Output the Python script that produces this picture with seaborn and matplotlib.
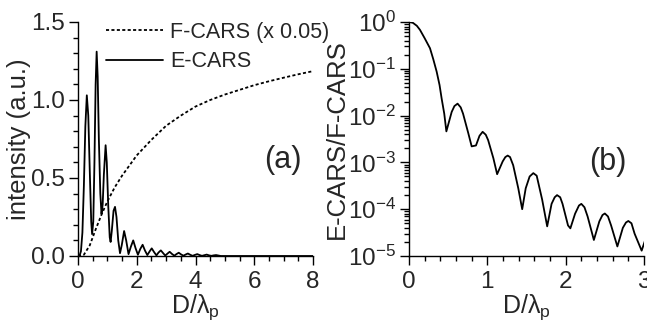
import numpy as np
import pandas as pd
import matplotlib
matplotlib.use("Agg")
import matplotlib.pyplot as plt
import seaborn as sns
from matplotlib.ticker import MultipleLocator, LogLocator, NullFormatter

# -------------------------------
# DATA
# -------------------------------
# (a) E-CARS intensity vs D/lambda_p
ecars_x = [0.00, 0.05, 0.10, 0.15, 0.20, 0.25, 0.30, 0.35, 0.40, 0.45,
           0.48, 0.52, 0.56, 0.60, 0.635, 0.67, 0.71, 0.76, 0.80, 0.84,
           0.88, 0.94, 0.98, 1.03, 1.08, 1.11, 1.15, 1.21, 1.26, 1.31,
           1.37, 1.43, 1.49, 1.57, 1.64, 1.72, 1.80, 1.88, 1.96, 2.04,
           2.12, 2.20, 2.28, 2.36, 2.44, 2.51, 2.59, 2.67, 2.74, 2.82,
           2.90, 2.97, 3.05, 3.12, 3.20, 3.28, 3.35, 3.43, 3.51, 3.59,
           3.66, 3.74, 3.82, 3.90, 3.98, 4.06, 4.14, 4.22, 4.30, 4.38,
           4.46, 4.54, 4.62, 4.70, 4.78, 4.86, 6.00, 8.00]
ecars_y = [0.0, 0.0, 0.03, 0.15, 0.45, 0.83, 1.03, 0.90, 0.55, 0.22,
           0.14, 0.22, 0.60, 1.10, 1.31, 1.15, 0.75, 0.40, 0.27, 0.33,
           0.52, 0.71, 0.60, 0.32, 0.12, 0.09, 0.16, 0.29, 0.315, 0.25,
           0.10, 0.018, 0.07, 0.16, 0.10, 0.012, 0.06, 0.10, 0.05, 0.008,
           0.045, 0.072, 0.035, 0.006, 0.03, 0.049, 0.025, 0.004, 0.022, 0.036,
           0.018, 0.003, 0.016, 0.027, 0.013, 0.002, 0.012, 0.021, 0.010, 0.002,
           0.009, 0.016, 0.008, 0.001, 0.007, 0.012, 0.006, 0.001, 0.005, 0.009,
           0.004, 0.001, 0.004, 0.006, 0.003, 0.0, 0.0, 0.0]

# (a) F-CARS intensity (already scaled x 0.05)
fcars_x = [0.0, 0.2, 0.4, 0.6, 0.8, 1.0, 1.25, 1.5, 1.75, 2.0, 2.5,
           3.0, 3.5, 4.0, 4.5, 5.0, 5.5, 6.0, 6.5, 7.0, 7.5, 8.0]
fcars_y = [0.0, 0.008, 0.068, 0.17, 0.265, 0.35, 0.44, 0.515, 0.58, 0.645, 0.745,
           0.835, 0.90, 0.958, 1.0, 1.035, 1.065, 1.095, 1.12, 1.143, 1.165, 1.185]

# (b) E-CARS / F-CARS ratio
ratio_x = [0.00, 0.05, 0.10, 0.14, 0.20, 0.268, 0.31, 0.353, 0.39, 0.417,
           0.45, 0.477, 0.545, 0.58, 0.62, 0.66, 0.69, 0.757, 0.80, 0.855,
           0.90, 0.94, 0.98, 1.01, 1.077, 1.125, 1.196, 1.23, 1.26, 1.29,
           1.33, 1.395, 1.445, 1.49, 1.54, 1.587, 1.63, 1.70, 1.764, 1.82,
           1.86, 1.89, 1.93, 1.96, 2.03, 2.06, 2.12, 2.17, 2.20, 2.24,
           2.28, 2.36, 2.43, 2.47, 2.50, 2.54, 2.58, 2.66, 2.73, 2.77,
           2.80, 2.84, 2.88, 2.97, 3.03]
ratio_y = [1.0, 0.96, 0.83, 0.68, 0.45, 0.275, 0.16, 0.087, 0.045, 0.023,
           0.011, 0.0046, 0.012, 0.016, 0.018, 0.015, 0.011, 0.0042, 0.0022, 0.0023,
           0.0037, 0.0045, 0.0039, 0.003, 0.00123, 0.00056, 0.00105, 0.0013, 0.0014, 0.0013,
           0.00087, 0.00028, 0.0001, 0.00028, 0.0005, 0.00059, 0.00052, 0.00016, 4.3e-5, 1.3e-4,
           1.8e-4, 2.0e-4, 1.8e-4, 1.3e-4, 4.5e-5, 3.9e-5, 8e-5, 1.2e-4, 1.3e-4, 1.1e-4,
           7e-5, 2.2e-5, 5.5e-5, 7.5e-5, 8.1e-5, 7e-5, 4.5e-5, 1.6e-5, 4e-5, 5.2e-5,
           5.6e-5, 5e-5, 3e-5, 1.3e-5, 2.6e-5]

x_label = r"$\mathrm{D/\lambda_p}$"

# -------------------------------
# STYLE
# -------------------------------
sns.set_style("ticks")
plt.rcParams["font.family"] = ["Liberation Sans", "DejaVu Sans"]
plt.rcParams["mathtext.fontset"] = "custom"
plt.rcParams["mathtext.rm"] = "Liberation Sans"
plt.rcParams["mathtext.it"] = "Liberation Sans:italic"
plt.rcParams["mathtext.bf"] = "Liberation Sans:bold"
plt.rcParams["axes.linewidth"] = 1.0
plt.rcParams["axes.edgecolor"] = "black"

TICK_FS = 17.5
LABEL_FS = 18.5
XLABEL_FS = 18

fig = plt.figure(figsize=(6.47, 3.24), dpi=100)
ax1 = fig.add_axes([78 / 647, 68 / 324, 235 / 647, 234 / 324])
ax2 = fig.add_axes([409 / 647, 68 / 324, 235 / 647, 234 / 324])

# -------------------------------
# (a) INTENSITY
# -------------------------------
sns.lineplot(x=fcars_x, y=fcars_y, ax=ax1, color="black", lw=1.3,
             linestyle=(0, (1.7, 1.3)), label="F-CARS (x 0.05)",
             estimator=None, sort=False)
sns.lineplot(x=ecars_x, y=ecars_y, ax=ax1, color="black", lw=1.3,
             label="E-CARS", estimator=None, sort=False)

ax1.set_xlim(0, 8)
ax1.set_ylim(0, 1.5)
ax1.xaxis.set_major_locator(MultipleLocator(2))
ax1.xaxis.set_minor_locator(MultipleLocator(0.5))
ax1.yaxis.set_major_locator(MultipleLocator(0.5))
ax1.yaxis.set_minor_locator(MultipleLocator(0.1))
ax1.yaxis.set_major_formatter(plt.FormatStrFormatter("%.1f"))
ax1.set_xlabel(x_label, fontsize=XLABEL_FS, labelpad=-0.5)
ax1.set_ylabel("intensity (a.u.)", fontsize=LABEL_FS, labelpad=0)
ax1.text(0.872, 0.41, "(a)", transform=ax1.transAxes, fontsize=22,
         ha="center", va="center")

leg = ax1.legend(loc="upper left", bbox_to_anchor=(106 / 647, 1 - 22 / 324),
                 bbox_transform=fig.transFigure, frameon=False, fontsize=15.5,
                 handlelength=2.65, handletextpad=0.33, labelspacing=0.38,
                 borderpad=0, borderaxespad=0)

# -------------------------------
# (b) RATIO
# -------------------------------
sns.lineplot(x=ratio_x, y=ratio_y, ax=ax2, color="black", lw=1.3,
             estimator=None, sort=False)
ax2.set_yscale("log")
ax2.set_xlim(0, 3)
ax2.set_ylim(1e-5, 1)
ax2.xaxis.set_major_locator(MultipleLocator(1))
ax2.xaxis.set_minor_locator(MultipleLocator(0.2))
ax2.yaxis.set_major_locator(LogLocator(base=10, numticks=10))
ax2.yaxis.set_minor_locator(LogLocator(base=10, subs=np.arange(2, 10), numticks=20))
ax2.yaxis.set_minor_formatter(NullFormatter())
ax2.set_xlabel(x_label, fontsize=XLABEL_FS, labelpad=-0.5)
ax2.set_ylabel("E-CARS/F-CARS", fontsize=LABEL_FS, labelpad=-1)
ax2.text(0.847, 0.40, "(b)", transform=ax2.transAxes, fontsize=22,
         ha="center", va="center")

for ax in (ax1, ax2):
    sns.despine(ax=ax)
    ax.tick_params(which="major", direction="out", length=6.5, width=1.0,
                   labelsize=TICK_FS, color="black")
    ax.tick_params(which="minor", direction="out", length=3.5, width=1.0,
                   color="black")
    ax.tick_params(axis="x", which="major", pad=4)
    ax.tick_params(axis="y", which="major", pad=3)

fig.savefig("out.png", dpi=100)
